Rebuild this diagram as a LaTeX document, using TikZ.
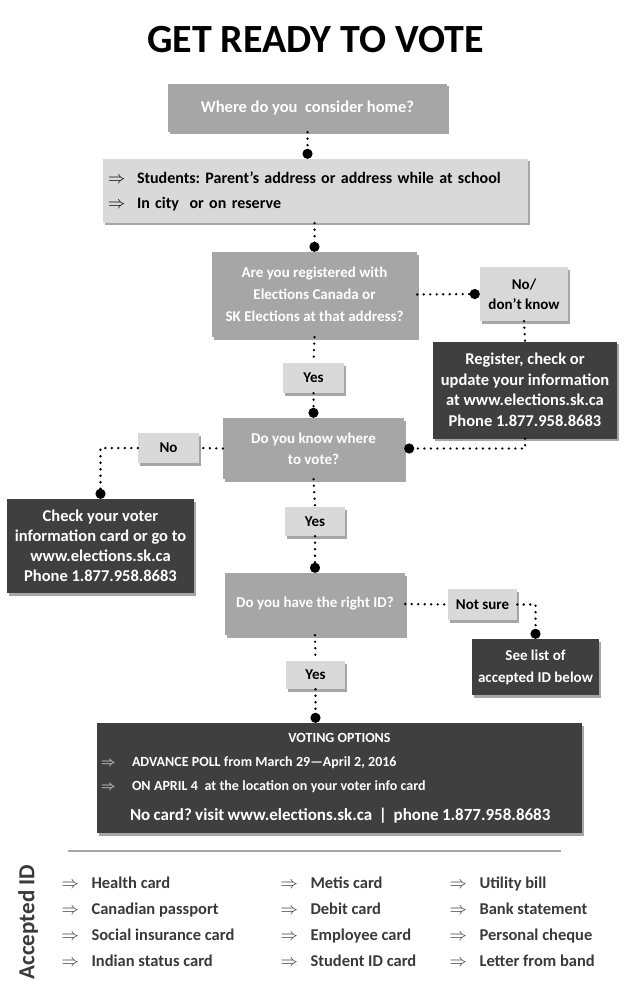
\documentclass[tikz,border=0pt]{standalone}
\usepackage{fontspec}
\setmainfont{Carlito}
\usetikzlibrary{arrows.meta,shadows}
\definecolor{boxmid}{HTML}{A6A6A6}
\definecolor{boxlight}{HTML}{D9D9D9}
\definecolor{boxdark}{HTML}{3F3F3F}
\definecolor{idgray}{HTML}{3A3A3A}
\newcommand\fs[2]{\fontsize{#1}{#2}\selectfont\bfseries}
\newcommand\ar[1]{\makebox[#1][l]{$\Rightarrow$}}
\frenchspacing
\tikzset{
  conn/.style={line width=2.6pt, dash pattern=on 0pt off 6.5pt, line cap=round},
  enddot/.style={-{Circle[length=10pt,width=10pt]}},
  shade/.style={drop shadow={shadow xshift=2pt,shadow yshift=-2.5pt,opacity=.35,fill=black}},
  qbox/.style={shade, fill=boxmid, text=white, align=center, inner sep=0pt},
  infobox/.style={shade, fill=boxdark, text=white, align=center, inner sep=0pt},
  tag/.style={shade, fill=boxlight, text=black, align=center, inner sep=0pt, font=\fs{15}{20}},
  idtext/.style={anchor=base west, text=idgray, font=\fs{16.5}{20}}
}
\begin{document}
\begin{tikzpicture}[x=1pt,y=-1pt]
  \fill[white] (0,0) rectangle (636,1000);
  \useasboundingbox (0,0) rectangle (636,1000);
  \node[font=\fs{40}{40}] (title) at (315.5,40) {GET READY TO VOTE};
  % questions
  \node[qbox, minimum width=279pt, minimum height=48pt, font=\fs{16.5}{20}] (home) at (307.5,108) {Where do you\ \ consider home?};
  \node[shade, fill=boxlight, minimum width=425pt, minimum height=64pt, inner sep=0pt,
        text width=415pt, align=left, font=\fs{16}{25}] (addr) at (315.5,191)
        {\ar{29pt}Students: Parent's address or address while at school\\
         \ar{29pt}In city\ \ or on reserve};
  \node[qbox, minimum width=205pt, minimum height=85pt, font=\fs{15}{22}] (registered) at (314.5,294.5)
        {Are you registered with\\Elections Canada or\\SK Elections at that address?};
  \node[tag, minimum width=88pt, minimum height=54pt] (nope) at (524,294) {No/\\don't know};
  \node[infobox, minimum width=184pt, minimum height=97pt, font=\fs{16.5}{20.5}] (update) at (525,390)
        {Register, check or\\update your information\\at www.elections.sk.ca\\Phone 1.877.958.8683};
  \node[tag, minimum width=61pt, minimum height=30pt] (yes1) at (313.5,378) {Yes};
  \node[qbox, minimum width=181pt, minimum height=61pt, font=\fs{15}{21}] (where) at (313.5,448.5)
        {Do you know where\\to vote?};
  \node[tag, minimum width=61pt, minimum height=30pt] (no1) at (168.5,448) {No};
  \node[infobox, minimum width=187pt, minimum height=94pt, font=\fs{16.5}{20}] (check) at (100.5,546)
        {Check your voter\\information card or go to\\www.elections.sk.ca\\Phone 1.877.958.8683};
  \node[tag, minimum width=60pt, minimum height=29pt] (yes2) at (315,521.5) {Yes};
  \node[qbox, minimum width=180pt, minimum height=62pt, font=\fs{15}{20}] (rightid) at (315,604)
        {Do you have the right ID?};
  \node[tag, minimum width=69pt, minimum height=31pt] (notsure) at (482.5,604.5) {Not sure};
  \node[infobox, minimum width=127pt, minimum height=56pt, font=\fs{15}{22}] (seelist) at (535.5,667)
        {See list of\\accepted ID below};
  \node[tag, minimum width=59pt, minimum height=28pt] (yes3) at (315.5,675) {Yes};
  \node[infobox, minimum width=485pt, minimum height=110pt, text width=477pt, align=left] (vote) at (339.5,778)
        {{\fs{14}{24}\makebox[477pt]{VOTING OPTIONS}\par
          \ar{31pt}ADVANCE POLL from March 29---April 2, 2016\par
          \ar{31pt}ON APRIL 4\ \ at the location on your voter info card\par}
         {\fs{17}{30}\hspace{29pt}No card? visit www.elections.sk.ca\ \ |\ \ phone 1.877.958.8683\par}};
  % connectors
  \draw[conn,enddot] (home.south) -- (home.south |- addr.north);
  \draw[conn,enddot] (addr.south -| registered.north) -- (registered.north);
  \draw[conn,enddot] (registered.east) -- (nope.west);
  \draw[conn] (nope.south) -- (update.north);
  \draw[conn,enddot] (update.south) |- (where.east);
  \draw[conn] (registered.south) -- (yes1.north);
  \draw[conn,enddot] (yes1.south) -- (where.north);
  \draw[conn] (where.west) -- (no1.east);
  \draw[conn,enddot] (no1.west) -| (check.north);
  \draw[conn] (where.south) -- (yes2.north);
  \draw[conn,enddot] (yes2.south) -- (rightid.north);
  \draw[conn] (rightid.east) -- (notsure.west);
  \draw[conn,enddot] (notsure.east) -| (seelist.north);
  \draw[conn] (rightid.south) -- (yes3.north);
  \draw[conn,enddot] (yes3.south) -- (yes3.south |- vote.north);
  % accepted ID
  \draw[line width=1.5pt, gray!70] (68,851) -- (561,851);
  \node[rotate=90, text=idgray, font=\fs{23}{23}] (accepted) at (28,922) {Accepted ID};
  \node[idtext] (id11) at (58,888) {\ar{30pt}Health card};
  \node[idtext] (id12) at (58,914) {\ar{30pt}Canadian passport};
  \node[idtext] (id13) at (58,940) {\ar{30pt}Social insurance card};
  \node[idtext] (id14) at (58,966) {\ar{30pt}Indian status card};
  \node[idtext] (id21) at (277,888) {\ar{30pt}Metis card};
  \node[idtext] (id22) at (277,914) {\ar{30pt}Debit card};
  \node[idtext] (id23) at (277,940) {\ar{30pt}Employee card};
  \node[idtext] (id24) at (277,966) {\ar{30pt}Student ID card};
  \node[idtext] (id31) at (446,888) {\ar{30pt}Utility bill};
  \node[idtext] (id32) at (446,914) {\ar{30pt}Bank statement};
  \node[idtext] (id33) at (446,940) {\ar{30pt}Personal cheque};
  \node[idtext] (id34) at (446,966) {\ar{30pt}Letter from band};
\end{tikzpicture}
\end{document}
